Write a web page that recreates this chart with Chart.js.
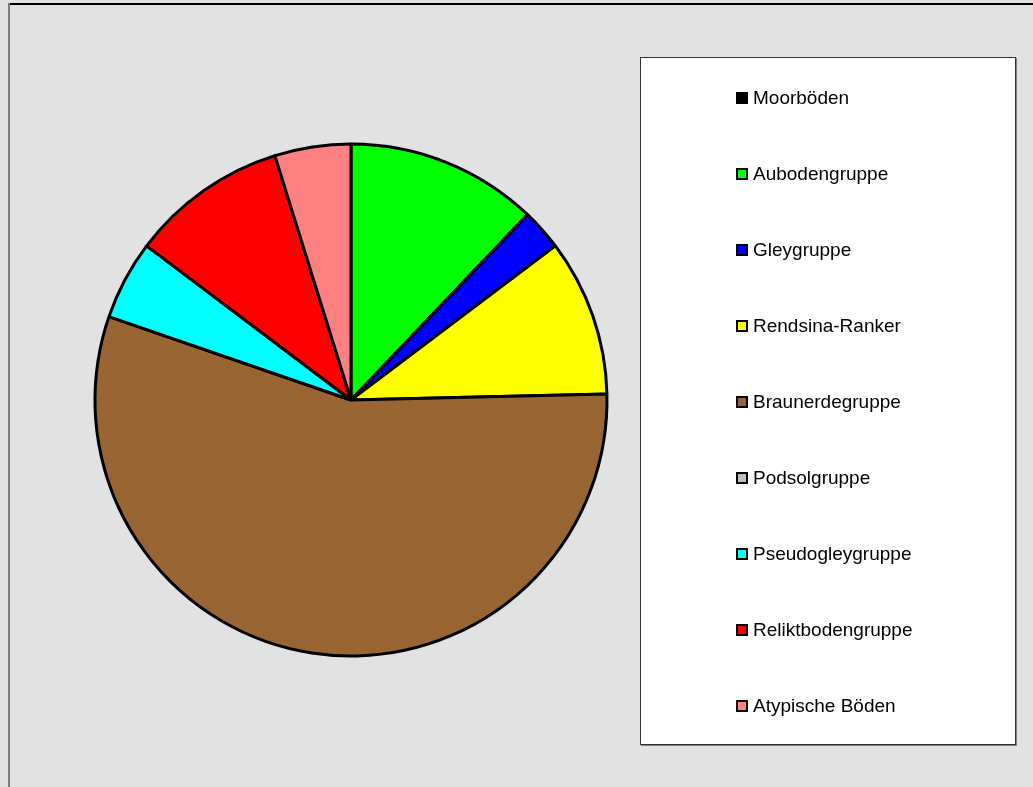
<!DOCTYPE html>
<html>
<head>
<meta charset="utf-8">
<script src="https://cdn.jsdelivr.net/npm/chart.js@4/dist/chart.umd.min.js"></script>
<style>
  html, body { margin: 0; padding: 0; background: #e2e2e2; }
  #wrap { width: 1033px; height: 787px; position: relative; }
</style>
</head>
<body>
<div id="wrap"><canvas id="chartBoeden" width="1033" height="787"></canvas></div>
<script>
// Bodentypen - Anteile in %
const kategorien = ['Moorböden', 'Aubodengruppe', 'Gleygruppe', 'Rendsina-Ranker', 'Braunerdegruppe',
    'Podsolgruppe', 'Pseudogleygruppe', 'Reliktbodengruppe', 'Atypische Böden'];
const anteile = [0, 12.1, 2.6, 9.9, 55.6, 0, 5.0, 9.9, 4.8];
const farben = ['#000000', '#00ff00', '#0000ff', '#ffff00', '#996633', '#c0c0c0', '#00ffff', '#ff0000', '#ff8080'];

// rahmen + legende
const rahmenPlugin = {
    id: 'rahmen',
    beforeDraw(chart) {
        const ctx = chart.ctx;
        ctx.save();
        ctx.fillStyle = '#e2e2e2';
        ctx.fillRect(0, 0, chart.width, chart.height);
        ctx.fillStyle = '#000';
        ctx.fillRect(8, 3, chart.width - 8, 2);
        ctx.fillStyle = '#7a7a7a';
        ctx.fillRect(8, 3, 2, chart.height - 3);
        ctx.restore();
    },
    afterDraw(chart) {
        const ctx = chart.ctx;
        ctx.save();
        // legendenbox
        ctx.fillStyle = '#ffffff';
        ctx.fillRect(640, 57, 375, 687);
        ctx.fillStyle = '#808080';
        ctx.fillRect(1015, 58, 2, 688);
        ctx.fillRect(641, 744, 376, 2);
        ctx.strokeStyle = '#333';
        ctx.lineWidth = 1;
        ctx.strokeRect(640.5, 57.5, 375, 687);

        ctx.font = '19px "Liberation Sans", Arial, sans-serif';
        ctx.textBaseline = 'middle';
        kategorien.forEach((nome, i) => {
            const y = 98 + i * 76;
            ctx.fillStyle = farben[i];
            ctx.fillRect(737, y - 5, 10, 10);
            ctx.strokeStyle = '#000';
            ctx.lineWidth = 2;
            ctx.strokeRect(737, y - 5, 10, 10);
            ctx.fillStyle = '#000';
            ctx.fillText(nome, 753, y + 1);
        });
        ctx.restore();
    }
};

new Chart(document.getElementById('chartBoeden').getContext('2d'), {
    type: 'pie',
    data: {
        labels: kategorien,
        datasets: [{
            data: anteile,
            backgroundColor: farben,
            borderColor: '#000000',
            borderWidth: 3,
            borderAlign: 'center'
        }]
    },
    options: {
        responsive: false,
        animation: false,
        radius: 256,
        layout: { padding: { left: 95, right: 426, top: 144, bottom: 131 } },
        plugins: { legend: { display: false }, tooltip: { enabled: false } }
    },
    plugins: [rahmenPlugin]
});
</script>
</body>
</html>
